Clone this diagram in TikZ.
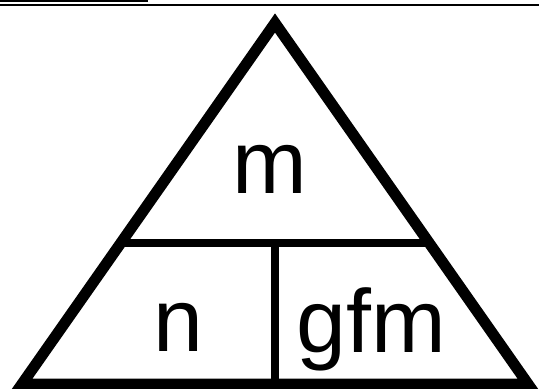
\documentclass[tikz,border=0pt]{standalone}
\usepackage{fontspec}
\setmainfont{Liberation Sans}
\usetikzlibrary{calc}
\begin{document}
\begin{tikzpicture}[x=0.02cm,y=-0.02cm]
			\useasboundingbox (0,0) rectangle (539,389);
			% rules at the top
			\draw[line width=0.045cm] (0,1) -- (148,1);
			\draw[line width=0.04cm] (0,5) -- (539,5);
			% triangle
			\coordinate (apex) at (275,23);
			\coordinate (bl) at (22,384);
			\coordinate (br) at (528,384);
			\draw[line width=0.22cm, line join=miter] (apex) -- (bl) -- (br) -- cycle;
			% dividers
			\coordinate (divl) at ($(bl)!0.39!(apex)$);
			\coordinate (divr) at ($(br)!0.39!(apex)$);
			\draw[line width=0.16cm] (divl) -- (divr);
			\draw[line width=0.16cm] ($(divl)!0.5!(divr)$) -- ($(bl)!0.5!(br)$);
			% labels
			\node[anchor=base, inner sep=0pt, font=\fontsize{51}{51}\selectfont] (mass) at (270,193) {m};
			\node[anchor=base, inner sep=0pt, font=\fontsize{51}{51}\selectfont] (moles) at (178,351) {n};
			\node[anchor=base, inner sep=0pt, font=\fontsize{51}{51}\selectfont] (molar) at (371,352) {gfm};
		\end{tikzpicture}
\end{document}
